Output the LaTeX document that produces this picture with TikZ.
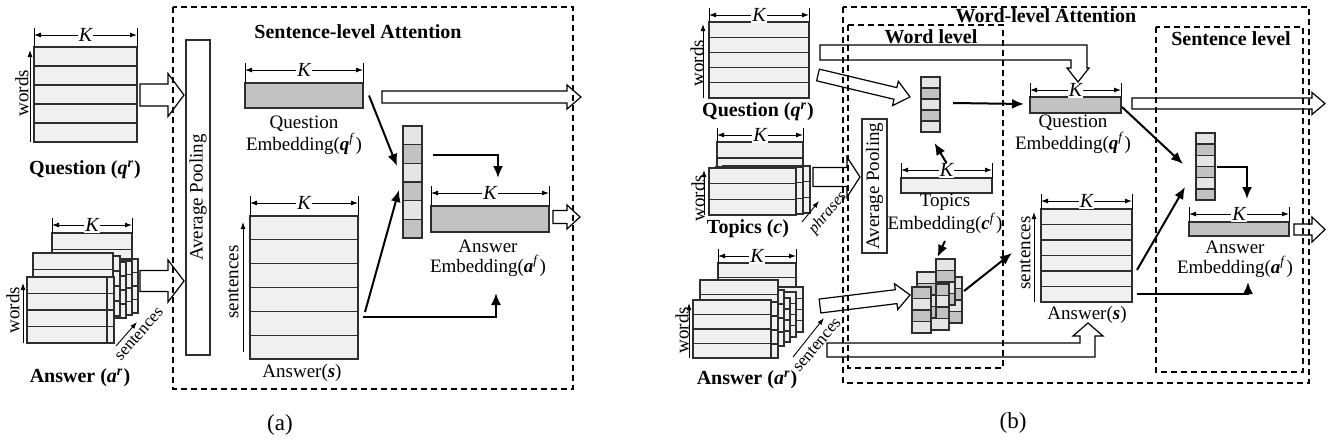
\documentclass[tikz,border=0pt]{standalone}
\usepackage{fontspec}
\setmainfont{Liberation Serif}
\usetikzlibrary{arrows.meta}

\definecolor{matfill}{gray}{0.94}
\definecolor{embfill}{gray}{0.76}
\definecolor{lightcell}{gray}{0.9}
\definecolor{darkcell}{gray}{0.76}
\definecolor{edge}{gray}{0.18}

\tikzset{
  cellbox/.style={draw=edge, line width=0.7pt, inner sep=0pt, outer sep=0pt, rectangle},
  bar/.style={cellbox, fill=embfill, anchor=north west},
  rowline/.style={draw=edge, line width=0.65pt},
  dimtick/.style={line width=0.45pt},
  dimline/.style={line width=0.45pt, {Latex[length=3.5pt,width=2.5pt]}-{Latex[length=3.5pt,width=2.5pt]}},
  klabel/.style={fill=white, inner sep=0.6pt, font=\itshape},
  axisarrow/.style={line width=0.45pt, -{Latex[length=3.5pt,width=2.5pt]}},
  flow/.style={line width=1pt, -{Latex[length=6pt,width=5pt]}},
  hollow/.style={draw=black, line width=0.6pt, line join=miter},
  group/.style={draw, line width=0.6pt, dash pattern=on 3pt off 2pt},
  title/.style={font=\bfseries},
  caption/.style={align=center},
}

% matrix of rows: name, fill, x, y, width, height, rows
\newcommand\gridbox[7]{%
  \node[cellbox, fill=#2, minimum width=#5*0.5pt, minimum height=#6*0.5pt, anchor=north west] (#1) at (#3,#4) {};
  \pgfmathtruncatemacro\lastrow{#7-1}%
  \foreach \r in {1,...,\lastrow}{
    \draw[rowline] (#1.north west) ++(0,{\r*#6/#7}) -- ++(#5,0);
  }%
}
% attention vector: name, x, y, cell height, cells, parity
\newcommand\attvec[6]{%
  \node[cellbox, minimum width=9.5pt, minimum height=#4*#5*0.5pt, anchor=north west] (#1) at (#2,#3) {};
  \foreach \c in {1,...,#5}{%
    \ifodd\numexpr\c+#6\relax \def\cf{lightcell}\else \def\cf{darkcell}\fi
    \draw[cellbox, fill=\cf] (#2,{#3+(\c-1)*#4}) rectangle ++(19,#4);
  }%
}
% K width above a node
\newcommand\kdim[2]{%
  \draw[dimtick] (#1.north west) -- ++(0,{-#2-7});
  \draw[dimtick] (#1.north east) -- ++(0,{-#2-7});
  \draw[dimline] ([yshift=#2*0.5pt]#1.north west) -- node[klabel]{K} ([yshift=#2*0.5pt]#1.north east);
}
% hollow arrow: start, length, angle, shaft half, head half, head length
\newcommand\blockarrow[6]{%
  \draw[hollow, shift={#1}, rotate=#3] (0,-#4) -- ({#2-#6},-#4) -- ({#2-#6},-#5) -- (#2,0)
    -- ({#2-#6},#5) -- ({#2-#6},#4) -- (0,#4) -- cycle;
}

\begin{document}
\begin{tikzpicture}[x=0.5pt,y=-0.5pt,font=\fontsize{9.5}{10}\selectfont]
\useasboundingbox (0,0) rectangle (1335,445);

% ---------------- (a) ----------------
\gridbox{qra}{matfill}{34}{47}{103}{95}{5}
\kdim{qra}{12}
\node[rotate=90] (qwa) at (22,93) {words};
\draw[axisarrow] (30,142) -- (30,50);
\node[title] (qla) at (85,170) {Question (\textit{q}\textsuperscript{\textit{r}})};

\foreach \lx/\ly/\lh in {52/233/66, 58/259/54, 52/261/54, 46/262/56, 40/256/60, 33/253/66, 34/277/66, 27/277/66}{
  \gridbox{aa\lx\ly}{matfill}{\lx}{\ly}{80}{\lh}{4}
}
\kdim{aa52233}{8}
\node[rotate=90] (awa) at (13,310) {words};
\draw[axisarrow] (23,343) -- (23,283);
\node[rotate=49, font=\fontsize{8.5}{9}\selectfont] (asa) at (139,334) {sentences};
\draw[axisarrow] (116,346) -- (137,322);
\node[title] (ala) at (80,378) {Answer (\textit{a}\textsuperscript{\textit{r}})};

\draw[group] (173,7) rectangle (573,389);
\node[title] (sla) at (358,32) {Sentence-level Attention};

\node[cellbox, minimum width=12pt, minimum height=157.5pt, anchor=north west] (poola) at (186,40) {};
\node[rotate=90] at (poola.center) {Average Pooling};
\blockarrow{(140,95)}{44}{0}{11}{21.5}{16}
\blockarrow{(140,281)}{44}{0}{10.5}{21}{16}

\node[bar, minimum width=59pt, minimum height=12.5pt] (qfa) at (245,83) {};
\kdim{qfa}{13}
\node[caption] (qfla) at (304,135) {Question\\Embedding(\textbf{\textit{q}}\textsuperscript{\textit{f}})};
\blockarrow{(382,97)}{199}{0}{6}{12}{14}

\attvec{atta}{403}{126}{18.67}{6}{0}

\node[bar, minimum width=59pt, minimum height=13pt] (afa) at (431,206) {};
\kdim{afa}{13}
\node[caption] (afla) at (488,258) {Answer\\Embedding(\textbf{\textit{a}}\textsuperscript{\textit{f}})};
\blockarrow{(553,217)}{27}{0}{6.5}{12}{13}

\gridbox{sa}{matfill}{250}{216}{108}{143}{6}
\kdim{sa}{13}
\node[rotate=90] (ssa) at (233,282) {sentences};
\draw[axisarrow] (243,352) -- (243,222);
\node (sla2) at (302,373) {Answer(\textbf{\textit{s}})};

\draw[flow] ([shift={(6,0)}]qfa.east) -- ([shift={(-6,-16)}]atta.west);
\draw[flow] ([shift={(11,-27)}]atta.east) -| ([shift={(8,-28)}]afa.north);
\draw[flow] ([shift={(7,24.5)}]sa.east) -- ([shift={(-4,8)}]atta.west);
\draw[flow] ([shift={(5,29.5)}]sa.east) -| ([shift={(6,61)}]afa.south);

\node[font=\fontsize{11.5}{12}\selectfont] (capa) at (280,425) {(a)};

% ---------------- (b) ----------------
\gridbox{qrb}{matfill}{709}{22}{100}{76}{5}
\kdim{qrb}{7}
\node[rotate=90] (qwb) at (697,63) {words};
\draw[axisarrow] (703,98) -- (703,24);
\node[title] (qlb) at (758,112) {Question (\textit{q}\textsuperscript{\textit{r}})};

\gridbox{tb}{matfill}{717}{142}{86}{48}{3}
\kdim{tb}{7}
\foreach \lx/\ly in {723/166, 716/167, 709/168}{
  \gridbox{tp\lx}{matfill}{\lx}{\ly}{87}{47}{3}
}
\node[rotate=90] (twb) at (698,198) {words};
\draw[axisarrow] (704,215) -- (704,170);
\node[title] (tlb) at (748,229) {Topics (\textit{c})};
\node[rotate=50, font=\itshape\fontsize{8}{8}\selectfont] (tph) at (828,213) {phrases};
\draw[axisarrow] (802,222) -- (819,201);

\foreach \lx/\ly/\lh in {718/263/58, 725/287/45, 718/292/45, 712/298/44, 706/290/56, 700/280/58, 700/302/56, 693/300/58}{
  \gridbox{ab\lx\ly}{matfill}{\lx}{\ly}{78}{\lh}{4}
}
\kdim{ab718263}{7}
\node[rotate=90] (awb) at (682,330) {words};
\draw[axisarrow] (689,358) -- (689,303);
\node[rotate=50, font=\fontsize{8.5}{9}\selectfont] (asb) at (817,345) {sentences};
\draw[axisarrow] (793,357) -- (824,318);
\node[title] (alb) at (747,380) {Answer (\textit{a}\textsuperscript{\textit{r}})};

\draw[group] (843,7) rectangle (1309,383);
\node[title] (wla) at (1046,16) {Word-level Attention};
\draw[group] (848,25) rectangle (1003,368);
\node[title] (wlb) at (931,37) {Word level};
\draw[group] (1156,27) rectangle (1303,372);
\node[title] (slb) at (1231,39) {Sentence level};

\node[cellbox, minimum width=12.5pt, minimum height=67pt, anchor=north west] (poolb) at (862,119) {};
\node[rotate=90] at (poolb.center) {Average Pooling};

\attvec{wattq}{921}{77}{11}{5}{0}
\node[cellbox, fill=matfill, anchor=north west, minimum width=45.5pt, minimum height=7.5pt] (cfb) at (901,178) {};
\kdim{cfb}{8}
\node[caption, font=\fontsize{9.5}{10.5}\selectfont] (cflb) at (945,214) {Topics\\Embedding(\textbf{\textit{c}}\textsuperscript{\textit{f}})};

\foreach \vx/\vy/\vp in {943/277/0, 936/259/0, 930/284/1, 917/272/0, 912/287/1}{
  \attvec{wc\vx}{\vx}{\vy}{11.5}{4}{\vp}
}

\node[bar, minimum width=45.5pt, minimum height=8pt] (qfb) at (1030,97) {};
\kdim{qfb}{7}
\node[caption] (qflb) at (1073,134) {Question\\Embedding(\textbf{\textit{q}}\textsuperscript{\textit{f}})};

\gridbox{sb}{matfill}{1041}{209}{91}{93}{6}
\kdim{sb}{8}
\node[rotate=90] (ssb) at (1025,253) {sentences};
\draw[axisarrow] (1034,302) -- (1034,212);
\node (slb2) at (1087,315) {Answer(\textbf{\textit{s}})};

\attvec{satt}{1196}{133}{11.17}{6}{0}
\node[bar, minimum width=50pt, minimum height=7pt] (afb) at (1189,222) {};
\kdim{afb}{8}
\node[caption] (aflb) at (1235,259) {Answer\\Embedding(\textbf{\textit{a}}\textsuperscript{\textit{f}})};

% hollow arrows
\draw[hollow] (820,45) -- (1087,45) -- (1087,68) -- (1089,68) -- (1078,82) -- (1067,68)
  -- (1071,68) -- (1071,60) -- (820,60) -- cycle;
\blockarrow{(818,75)}{94.6}{-13.4}{6}{12.5}{15}
\blockarrow{(813,177)}{47}{0}{9.5}{20}{13}
\blockarrow{(820,306)}{90.7}{7}{7}{13}{14}
\draw[hollow] (827,343) -- (1080,343) -- (1080,336) -- (1073,336) -- (1088,323) -- (1103,336)
  -- (1095,336) -- (1095,357) -- (827,357) -- cycle;
\blockarrow{(1132,103.5)}{193}{0}{5.5}{11}{13}
\blockarrow{(1294,229.5)}{31}{0}{5.5}{12.5}{13}

% flows
\draw[flow] ([shift={(13,-1.5)}]wattq.east) -- ([shift={(-6,-1)}]qfb.west);
\draw[flow] ([shift={(0,-15)}]cfb.north) -- ([shift={(4,11)}]wattq.south);
\draw[flow] (cflb.south) -- ([shift={(-8,-2)}]wc936.north);
\draw[flow] ([shift={(2,-9)}]wc943.east) -- ([shift={(-29,-2.5)}]sb.west);
\draw[flow] ([shift={(1,2)}]qfb.east) -- ([shift={(-13,-2.5)}]satt.west);
\draw[flow] ([shift={(2,0)}]satt.east) -| ([shift={(8,-23)}]afb.north);
\draw[flow] ([shift={(5,14.5)}]sb.east) -- ([shift={(-11,20.5)}]satt.west);
\draw[flow] ([shift={(5,38.5)}]sb.east) -| ([shift={(9,46)}]afb.south);

\node[font=\fontsize{11.5}{12}\selectfont] (capb) at (1013,423) {(b)};
\end{tikzpicture}
\end{document}
